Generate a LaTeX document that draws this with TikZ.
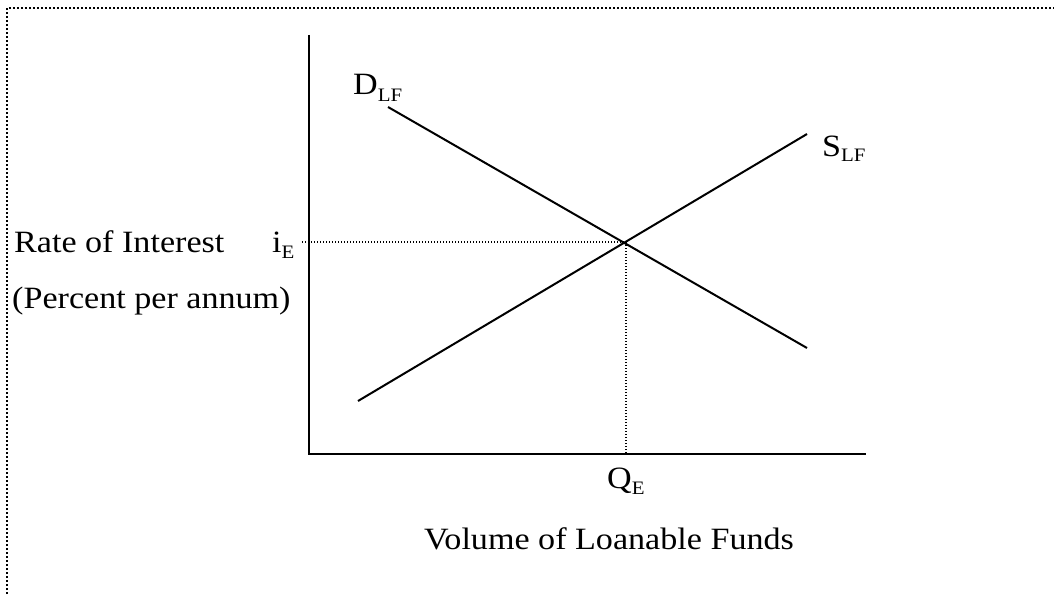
\documentclass[tikz,border=0pt]{standalone}
\usepackage{fontspec}
\setmainfont{Liberation Serif}[FakeStretch=1.1]
\newcommand{\mainsz}{\fontsize{31}{33}\selectfont}
\newcommand{\subsz}{\fontsize{19}{21}\selectfont}
\newcommand{\lowsub}[1]{\raisebox{-6pt}{\subsz #1}}
\tikzset{
  lbl/.style={inner sep=0pt, anchor=base west, font=\mainsz},
  axisline/.style={line width=2pt},
  curveline/.style={line width=2pt},
  guide/.style={line width=1.3pt, dash pattern=on 1.3pt off 1.7pt},
  frameline/.style={line width=2pt, dash pattern=on 2pt off 2pt}
}
\begin{document}
\begin{tikzpicture}[x=1pt,y=-1pt]
\useasboundingbox (0,0) rectangle (1054,594);
% frame
\coordinate (fb) at (7,594);
\coordinate (fc) at (7,8);
\coordinate (fr) at (1054,8);
\draw[frameline] (fb) -- (fc) -- (fr);
% axes
\coordinate (O) at (309,454);
\coordinate (Ytop) at (309,35);
\coordinate (Xend) at (866,454);
\draw[axisline] (Ytop) -- (O) -- (Xend);
% curves
\coordinate (d1) at (388,107);
\coordinate (d2) at (807,348);
\coordinate (s1) at (358,401);
\coordinate (s2) at (807,134);
\draw[curveline] (d1) -- (d2);
\draw[curveline] (s1) -- (s2);
% equilibrium guides
\coordinate (E) at (626,242);
\coordinate (iL) at (302,242);
\coordinate (qB) at (626,454);
\draw[guide] (iL) -- (E) -- (qB);
% labels
\node[lbl] (rate) at (14,252) {Rate of Interest};
\node[lbl] (ie) at (272,252) {i\lowsub{E}};
\node[lbl] (pct) at (12,308) {(Percent per annum)};
\node[lbl] (dlf) at (353,94) {D\raisebox{-7pt}{\subsz LF}};
\node[lbl] (slf) at (822,156) {S\raisebox{-5pt}{\subsz LF}};
\node[lbl] (qe) at (607,488) {Q\lowsub{E}};
\node[lbl] (vol) at (424,549) {Volume of Loanable Funds};
\end{tikzpicture}
\end{document}
